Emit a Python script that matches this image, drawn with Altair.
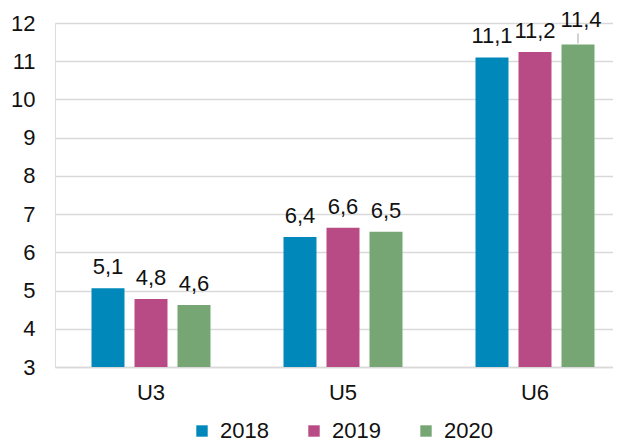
import altair as alt
import pandas as pd

categories = ["U3", "U5", "U6"]
years = ["2018", "2019", "2020"]
values_2018 = [5.06, 6.40, 11.10]
values_2019 = [4.78, 6.64, 11.24]
values_2020 = [4.62, 6.54, 11.44]
colors = ["#0088bb", "#b84b85", "#76a673"]
y_ticks = [3, 4, 5, 6, 7, 8, 9, 10, 11, 12]

rows = []
for yr, vals in zip(years, [values_2018, values_2019, values_2020]):
    for c, v in zip(categories, vals):
        rows.append({"cat": c, "year": yr, "value": v})
df = pd.DataFrame(rows)

FONT = "Liberation Sans"
FS = 22

x_scale = alt.Scale(range=[0, 576], paddingInner=0.328, paddingOuter=0.164)
x_axis = alt.Axis(labelAngle=0, domain=True, domainColor="#d9d9d9", domainWidth=1.5,
                  ticks=False, labelFontSize=FS, labelPadding=15, labelColor="#111",
                  labelFont=FONT, title=None)
xoff_scale = alt.Scale(paddingInner=0.233, paddingOuter=0.1165)
y_scale = alt.Scale(domain=[3, 12], nice=False, zero=False)
y_axis = alt.Axis(values=y_ticks, tickCount=20, format="d", labelOverlap=False,
                  domain=False, ticks=False,
                  grid=True, gridColor="#d9d9d9", gridWidth=1.5, labelFontSize=FS,
                  labelPadding=20, labelColor="#111", labelFont=FONT, title=None)


def X(**kw):
    return alt.X("cat:N", sort=categories, scale=x_scale, axis=x_axis, title=None, **kw)


def XO():
    return alt.XOffset("year:N", sort=years, scale=xoff_scale)


def Y():
    return alt.Y("value:Q", scale=y_scale, axis=y_axis, title=None)


bars = alt.Chart(df).mark_bar().encode(
    x=X(),
    xOffset=XO(),
    y=Y(),
    y2=alt.datum(3),
    color=alt.Color("year:N", sort=years,
                    scale=alt.Scale(domain=years, range=colors),
                    legend=alt.Legend(title=None, orient="none", direction="horizontal",
                                      legendX=136, legendY=397, symbolType="square",
                                      symbolSize=130, symbolStrokeWidth=0,
                                      labelFontSize=FS, labelFont=FONT, labelColor="#111",
                                      columnPadding=34, symbolOffset=0, labelOffset=7)),
)

label_expr = "replace(format(datum.value, '.1f'), '.', ',')"

labels = alt.Chart(df).transform_calculate(label=label_expr).transform_filter(
    "datum.value < 11.3"
).mark_text(
    baseline="alphabetic", dy=-14, fontSize=FS, font=FONT, color="#111"
).encode(x=X(), xOffset=XO(), y=Y(), text="label:N")

labels_top = alt.Chart(df).transform_calculate(label=label_expr).transform_filter(
    "datum.value >= 11.3"
).mark_text(
    baseline="alphabetic", dy=-17, dx=3, fontSize=FS, font=FONT, color="#111"
).encode(x=X(), xOffset=XO(), y=Y(), text="label:N")

leader = alt.Chart(df).transform_filter("datum.value >= 11.3").mark_rule(
    color="#a6a6a6", strokeWidth=1, yOffset=-1, y2Offset=-11, xOffset=0, x2Offset=3
).encode(
    x=X(bandPosition=0.5),
    xOffset=XO(),
    y=Y(),
    y2=alt.Y2("value:Q"),
)

chart = alt.layer(bars, labels, labels_top, leader).properties(
    width=558, height=344,
    autosize=alt.AutoSizeParams(type="none"),
    padding={"left": 47, "top": 15, "right": 0, "bottom": 78},
).configure_view(stroke=None).configure(background="white")

chart.save("out.html", embed_options={"renderer": "svg", "actions": False})
